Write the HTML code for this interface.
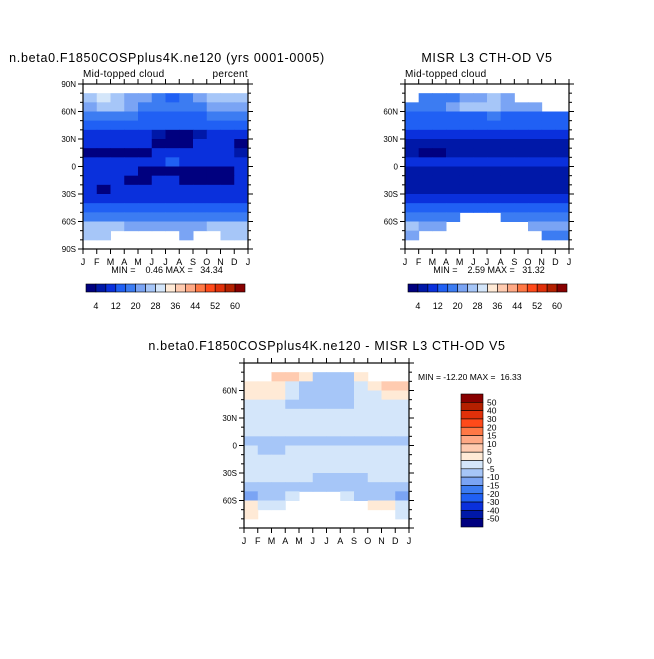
<!DOCTYPE html>
<html><head><meta charset="utf-8"><style>
html,body{margin:0;padding:0;background:#fff}
svg text{font-family:"Liberation Sans",sans-serif;fill:#000;white-space:pre}
</style></head><body>
<svg id="s" width="654" height="654" viewBox="0 0 654 654" xmlns="http://www.w3.org/2000/svg"></svg>
<script>
const months=["J","F","M","A","M","J","J","A","S","O","N","D","J"];
const colors=["#00007f","#0018a8","#0a30dc","#2060f4","#3c7cf2","#7aa4f4","#a6c6f8","#d4e6fa","#ffead6","#ffcbb0","#ffa985","#ff7845","#ff4a1a","#e0300a","#b42000","#880000"];
const levels1=[4,8,12,16,20,24,28,32,36,40,44,48,52,56,60];
const cbLabels1=["4","12","20","28","36","44","52","60"];
const levels3=[-50,-40,-30,-20,-15,-10,-5,0,5,10,15,20,30,40,50];
const cbLabels3=["50","40","30","20","15","10","5","0","-5","-10","-15","-20","-30","-40","-50"];
const N=null;
// rows: 90N->90S in 10-degree bands; columns Jan..Dec
const model=[
[N,N,N,N,N,N,N,N,N,N,N,N],
[26,28,26,22,22,18,14,18,22,26,26,26],
[22,26,26,22,18,18,18,18,18,22,22,22],
[18,18,18,18,14,14,14,14,14,18,18,18],
[14,14,14,14,14,14,14,14,14,14,14,14],
[10,10,10,10,10,6,2,2,6,10,10,10],
[10,10,10,10,10,2,2,2,10,10,10,2],
[2,2,2,2,2,10,10,10,10,10,10,6],
[10,10,10,10,10,10,14,10,10,10,10,10],
[10,10,10,10,2,2,2,2,2,2,2,10],
[10,10,10,2,2,10,10,2,2,2,2,10],
[10,2,10,10,10,10,10,10,10,10,10,10],
[10,10,10,10,10,10,10,10,10,10,10,10],
[14,14,14,14,14,14,14,14,14,14,14,14],
[18,18,18,18,18,18,18,18,18,18,18,18],
[26,26,24,22,22,22,22,22,22,26,26,26],
[26,26,N,N,N,N,N,22,N,N,26,26],
[N,N,N,N,N,N,N,N,N,N,N,N]];
const obs=[
[N,N,N,N,N,N,N,N,N,N,N,N],
[N,18,18,18,22,22,26,22,N,N,N,N],
[18,18,18,22,26,26,26,22,22,22,N,N],
[14,14,14,14,14,14,18,14,14,14,14,14],
[12,12,12,12,12,12,12,12,12,12,12,12],
[10,10,10,10,10,10,10,10,10,10,10,10],
[6,6,6,6,6,6,6,6,6,6,6,6],
[6,2,2,6,6,6,6,6,6,6,6,6],
[10,10,10,10,10,10,10,10,10,10,10,10],
[6,6,6,6,6,6,6,6,6,6,6,6],
[6,6,6,6,6,6,6,6,6,6,6,6],
[6,6,6,6,6,6,6,6,6,6,6,6],
[10,10,10,10,10,10,10,10,10,10,10,10],
[14,14,14,14,14,14,14,14,14,14,14,14],
[18,18,18,18,N,N,N,18,18,18,18,18],
[26,22,22,N,N,N,N,N,N,22,22,22],
[22,N,N,N,N,N,N,N,N,N,18,18],
[N,N,N,N,N,N,N,N,N,N,N,N]];
const diff=[
[N,N,N,N,N,N,N,N,N,N,N,N],
[N,N,6,6,2,-7,-7,-7,2,N,N,N],
[2,2,2,-3,-7,-7,-7,-7,-3,2,6,6],
[2,2,2,-3,-7,-7,-7,-7,-3,-3,2,2],
[-3,-3,-3,-7,-7,-7,-7,-7,-3,-3,-3,-3],
[-3,-3,-3,-3,-3,-3,-3,-3,-3,-3,-3,-3],
[-2,-2,-2,-2,-2,-2,-2,-2,-2,-2,-2,-2],
[-3,-3,-3,-3,-3,-3,-3,-3,-3,-3,-3,-3],
[-7,-7,-6,-6,-6,-6,-6,-6,-6,-6,-6,-6],
[-3,-6,-6,-3,-3,-3,-3,-3,-3,-3,-3,-3],
[-2,-2,-2,-2,-2,-2,-2,-2,-2,-2,-2,-2],
[-3,-3,-3,-3,-3,-3,-3,-3,-3,-3,-3,-3],
[-4,-4,-4,-4,-4,-6,-6,-6,-6,-4,-4,-4],
[-8,-8,-8,-8,-8,-8,-8,-8,-8,-8,-8,-8],
[-12,-8,-8,-3,N,N,N,-3,-8,-8,-8,-12],
[2,-3,-3,N,N,N,N,N,N,3,2,-3],
[2,N,N,N,N,N,N,N,N,N,N,-3],
[N,N,N,N,N,N,N,N,N,N,N,N]];

const S=document.getElementById('s');
const NS="http://www.w3.org/2000/svg";
function mk(tag,attrs,parent,text){const e=document.createElementNS(NS,tag);for(const k in attrs)e.setAttribute(k,attrs[k]);if(text!==undefined)e.textContent=text;(parent||S).appendChild(e);return e;}
function idx(v,lv){let i=0;while(i<lv.length&&v>=lv[i])i++;return i;}

function panel(name,data,lv,x0,y0,w,h,latLabels){
  const g=mk('g',{},S);
  
  
  const xs=c=>x0+c*w/12, ys=lat=>y0+(90-lat)*h/180;
  data.forEach((row,r)=>row.forEach((v,c)=>{
    if(v===null)return;
    const rc=mk('rect',{x:xs(c),y:ys(90-r*10),width:w/12+0.5,height:h/18+0.5,fill:colors[idx(v,lv)]},g);
    
    
  }));
  mk('rect',{x:x0,y:y0,width:w,height:h,fill:'none',stroke:'#000','stroke-width':1.2},g);
  for(let c=0;c<=12;c++){const x=xs(c);
    mk('line',{x1:x,y1:y0,x2:x,y2:y0-5,stroke:'#000'},g);
    mk('line',{x1:x,y1:y0+h,x2:x,y2:y0+h+5,stroke:'#000'},g);
    mk('text',{x:x,y:y0+h+16,'font-size':9,'text-anchor':'middle'},g,months[c]);}
  for(let lat=-90;lat<=90;lat+=10){const y=ys(lat),big=lat%30===0,L=big?5:3;
    mk('line',{x1:x0,y1:y,x2:x0-L,y2:y,stroke:'#000'},g);
    mk('line',{x1:x0+w,y1:y,x2:x0+w+L,y2:y,stroke:'#000'},g);}
  latLabels.forEach(l=>{const lat=l==="0"?0:(l.endsWith("N")?1:-1)*parseInt(l);
    mk('text',{x:x0-7,y:ys(lat)+3,'font-size':8,'text-anchor':'end'},g,l);});
  return {xs,ys};
}
function colorbar(name,x,y,w,h,vertical,labels){
  const g=mk('g',{},S);
  
  
  const n=colors.length;
  for(let i=0;i<n;i++){
    const col=vertical?colors[n-1-i]:colors[i];
    if(vertical)mk('rect',{x:x,y:y+i*h/n,width:w,height:h/n,fill:col,stroke:'#000','stroke-width':0.6},g);
    else mk('rect',{x:x+i*w/n,y:y,width:w/n,height:h,fill:col,stroke:'#000','stroke-width':0.6},g);
  }
  if(vertical) labels.forEach((l,i)=>mk('text',{x:x+w+4,y:y+(i+1)*h/n+3,'font-size':8.5},g,l));
  else labels.forEach((l,i)=>mk('text',{x:x+(2*i+1)*w/n,y:y+h+17,'font-size':9,'text-anchor':'middle'},g,l));
}
function txt(name,x,y,size,anchor,s,ls){const t=mk('text',{x:x,y:y,'font-size':size,'text-anchor':anchor,'letter-spacing':ls||0},S,s);
  }

panel('model-panel',model,levels1,83,84,165,165,["90N","60N","30N","0","30S","60S","90S"]);
panel('obs-panel',obs,levels1,405,84,164,165,["60N","30N","0","30S","60S"]);
panel('diff-panel',diff,levels3,244,363,165,165,["60N","30N","0","30S","60S"]);
colorbar('model-colorbar',86,284,159,8,false,cbLabels1);
colorbar('obs-colorbar',408,284,159,8,false,cbLabels1);
colorbar('diff-colorbar',461,394,22,133,true,cbLabels3);
txt('model-title',167,62,12.5,'middle','n.beta0.F1850COSPplus4K.ne120 (yrs 0001-0005)',0.7);
txt('obs-title',487,62,12.5,'middle','MISR L3 CTH-OD V5',0.7);
txt('diff-title',327,350,12.5,'middle','n.beta0.F1850COSPplus4K.ne120 - MISR L3 CTH-OD V5',0.7);
txt('model-subtitle',83,77,10,'start','Mid-topped cloud',0.3);
txt('model-units',248,77,10,'end','percent',0.3);
txt('obs-subtitle',405,77,10,'start','Mid-topped cloud',0.3);
txt('model-minmax',167,273,9,'middle','MIN =    0.46 MAX =   34.34');
txt('obs-minmax',489,273,9,'middle','MIN =    2.59 MAX =   31.32');
txt('diff-minmax',418,380,8.5,'start','MIN = -12.20 MAX =  16.33');
</script>
</body></html>
